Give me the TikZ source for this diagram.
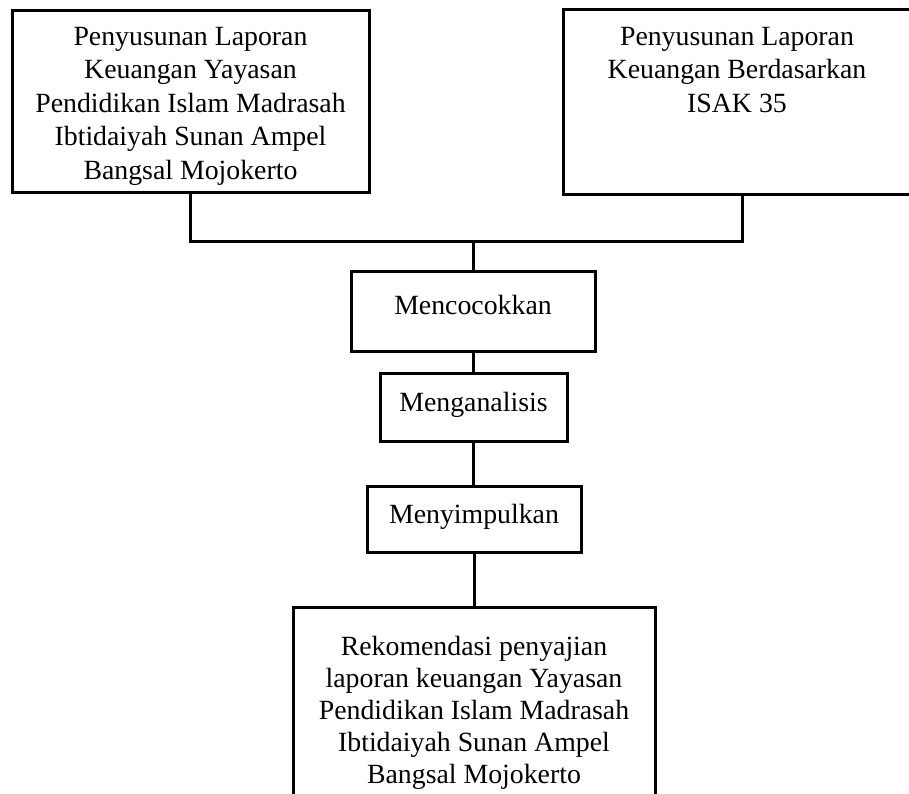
\documentclass[tikz,border=0pt]{standalone}
\usepackage{fontspec}
\setmainfont{Liberation Serif}
\begin{document}
\begin{tikzpicture}[x=1pt,y=-1pt,
  box/.style={draw=black, line width=3pt, minimum width=#1, inner sep=0pt, fill=none},
  txt/.style={font=\fontsize{27.8}{33.5}\selectfont, align=center, inner sep=0pt},
  txtb/.style={font=\fontsize{27.8}{32}\selectfont, align=center, inner sep=0pt},
  conn/.style={draw=black, line width=3pt}]
\useasboundingbox (0,0) rectangle (909,793);
\clip (0,0) rectangle (909,793);
\fill[white] (0,0) rectangle (909,793);
% top boxes
\node[box=357pt, minimum height=182pt] (b1) at (190.5,101) {};
\node[box=352pt, minimum height=184.5pt] (b2) at (739,101.75) {};
\node[txt, anchor=north] (t1) at (190.5,27) {Penyusunan Laporan\\Keuangan Yayasan\\Pendidikan Islam Madrasah\\Ibtidaiyah Sunan Ampel\\Bangsal Mojokerto};
\node[txt, anchor=north] (t2) at (737,27) {Penyusunan Laporan\\Keuangan Berdasarkan\\ISAK 35};
% middle boxes
\node[box=244pt, minimum height=80pt] (m1) at (473,311) {};
\node[txt, anchor=base] (tm1) at (473,314) {Mencocokkan};
\node[box=187pt, minimum height=68pt] (m2) at (473.5,407) {};
\node[txt, anchor=base] (tm2) at (473.5,411) {Menganalisis};
\node[box=214pt, minimum height=66pt] (m3) at (474,519) {};
\node[txt, anchor=base] (tm3) at (474,523) {Menyimpulkan};
% bottom box
\node[box=362pt, minimum height=220pt] (b4) at (474,717) {};
\node[txtb, anchor=north] (t4) at (474,635.5) {Rekomendasi penyajian\\laporan keuangan Yayasan\\Pendidikan Islam Madrasah\\Ibtidaiyah Sunan Ampel\\Bangsal Mojokerto};
% connectors
\coordinate (j) at (473,241);
\draw[conn] (b1.south) |- (j) -| ([xshift=3pt]b2.south);
\draw[conn] (j) -- (m1.north);
\draw[conn] (m1.south) -- (m1.south |- m2.north);
\draw[conn] (m2.south) -- (m2.south |- m3.north);
\draw[conn] (m3.south) -- (m3.south |- b4.north);
\end{tikzpicture}
\end{document}
